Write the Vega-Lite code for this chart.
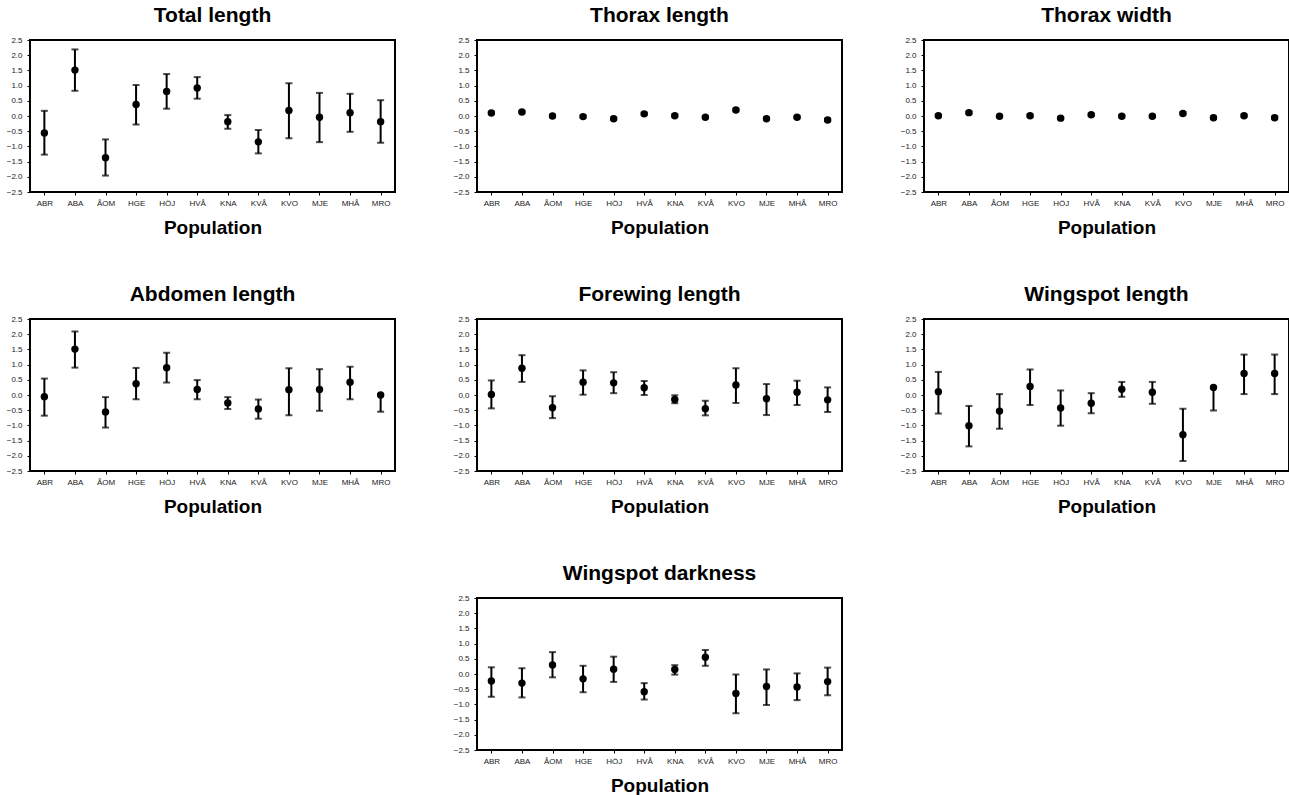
{
  "$schema": "https://vega.github.io/schema/vega-lite/v6.json",
  "padding": {"left": 5, "top": 4, "right": 0, "bottom": 0},
  "background": "white",
  "datasets": {
    "d": [
      {"trait": "Total length", "pop": "ABR", "mean": -0.56, "lo": -1.27, "hi": 0.17},
      {"trait": "Total length", "pop": "ABA", "mean": 1.51, "lo": 0.83, "hi": 2.19},
      {"trait": "Total length", "pop": "ÅOM", "mean": -1.37, "lo": -1.96, "hi": -0.77},
      {"trait": "Total length", "pop": "HGE", "mean": 0.38, "lo": -0.28, "hi": 1.02},
      {"trait": "Total length", "pop": "HÖJ", "mean": 0.81, "lo": 0.24, "hi": 1.38},
      {"trait": "Total length", "pop": "HVÅ", "mean": 0.92, "lo": 0.57, "hi": 1.28},
      {"trait": "Total length", "pop": "KNA", "mean": -0.19, "lo": -0.42, "hi": 0.03},
      {"trait": "Total length", "pop": "KVÅ", "mean": -0.85, "lo": -1.23, "hi": -0.46},
      {"trait": "Total length", "pop": "KVO", "mean": 0.18, "lo": -0.73, "hi": 1.08},
      {"trait": "Total length", "pop": "MJE", "mean": -0.04, "lo": -0.86, "hi": 0.76},
      {"trait": "Total length", "pop": "MHÅ", "mean": 0.11, "lo": -0.52, "hi": 0.73},
      {"trait": "Total length", "pop": "MRO", "mean": -0.19, "lo": -0.88, "hi": 0.52},

      {"trait": "Thorax length", "pop": "ABR", "mean": 0.10, "lo": 0.06, "hi": 0.14},
      {"trait": "Thorax length", "pop": "ABA", "mean": 0.13, "lo": 0.09, "hi": 0.17},
      {"trait": "Thorax length", "pop": "ÅOM", "mean": 0.00, "lo": -0.04, "hi": 0.04},
      {"trait": "Thorax length", "pop": "HGE", "mean": -0.02, "lo": -0.06, "hi": 0.02},
      {"trait": "Thorax length", "pop": "HÖJ", "mean": -0.09, "lo": -0.13, "hi": -0.05},
      {"trait": "Thorax length", "pop": "HVÅ", "mean": 0.07, "lo": 0.03, "hi": 0.11},
      {"trait": "Thorax length", "pop": "KNA", "mean": 0.01, "lo": -0.03, "hi": 0.05},
      {"trait": "Thorax length", "pop": "KVÅ", "mean": -0.04, "lo": -0.08, "hi": 0.00},
      {"trait": "Thorax length", "pop": "KVO", "mean": 0.20, "lo": 0.16, "hi": 0.24},
      {"trait": "Thorax length", "pop": "MJE", "mean": -0.09, "lo": -0.13, "hi": -0.05},
      {"trait": "Thorax length", "pop": "MHÅ", "mean": -0.04, "lo": -0.08, "hi": 0.00},
      {"trait": "Thorax length", "pop": "MRO", "mean": -0.13, "lo": -0.17, "hi": -0.09},

      {"trait": "Thorax width", "pop": "ABR", "mean": 0.01, "lo": -0.03, "hi": 0.05},
      {"trait": "Thorax width", "pop": "ABA", "mean": 0.11, "lo": 0.07, "hi": 0.15},
      {"trait": "Thorax width", "pop": "ÅOM", "mean": -0.01, "lo": -0.05, "hi": 0.03},
      {"trait": "Thorax width", "pop": "HGE", "mean": 0.01, "lo": -0.03, "hi": 0.05},
      {"trait": "Thorax width", "pop": "HÖJ", "mean": -0.07, "lo": -0.11, "hi": -0.03},
      {"trait": "Thorax width", "pop": "HVÅ", "mean": 0.04, "lo": 0.00, "hi": 0.08},
      {"trait": "Thorax width", "pop": "KNA", "mean": -0.01, "lo": -0.05, "hi": 0.03},
      {"trait": "Thorax width", "pop": "KVÅ", "mean": -0.01, "lo": -0.05, "hi": 0.03},
      {"trait": "Thorax width", "pop": "KVO", "mean": 0.08, "lo": 0.04, "hi": 0.12},
      {"trait": "Thorax width", "pop": "MJE", "mean": -0.06, "lo": -0.10, "hi": -0.02},
      {"trait": "Thorax width", "pop": "MHÅ", "mean": 0.01, "lo": -0.03, "hi": 0.05},
      {"trait": "Thorax width", "pop": "MRO", "mean": -0.06, "lo": -0.10, "hi": -0.02},

      {"trait": "Abdomen length", "pop": "ABR", "mean": -0.06, "lo": -0.68, "hi": 0.54},
      {"trait": "Abdomen length", "pop": "ABA", "mean": 1.51, "lo": 0.90, "hi": 2.09},
      {"trait": "Abdomen length", "pop": "ÅOM", "mean": -0.56, "lo": -1.07, "hi": -0.07},
      {"trait": "Abdomen length", "pop": "HGE", "mean": 0.37, "lo": -0.14, "hi": 0.89},
      {"trait": "Abdomen length", "pop": "HÖJ", "mean": 0.90, "lo": 0.41, "hi": 1.39},
      {"trait": "Abdomen length", "pop": "HVÅ", "mean": 0.18, "lo": -0.14, "hi": 0.49},
      {"trait": "Abdomen length", "pop": "KNA", "mean": -0.26, "lo": -0.46, "hi": -0.07},
      {"trait": "Abdomen length", "pop": "KVÅ", "mean": -0.46, "lo": -0.78, "hi": -0.15},
      {"trait": "Abdomen length", "pop": "KVO", "mean": 0.17, "lo": -0.67, "hi": 0.88},
      {"trait": "Abdomen length", "pop": "MJE", "mean": 0.18, "lo": -0.52, "hi": 0.85},
      {"trait": "Abdomen length", "pop": "MHÅ", "mean": 0.42, "lo": -0.14, "hi": 0.93},
      {"trait": "Abdomen length", "pop": "MRO", "mean": 0.00, "lo": -0.55, "hi": 0.00},

      {"trait": "Forewing length", "pop": "ABR", "mean": 0.02, "lo": -0.44, "hi": 0.48},
      {"trait": "Forewing length", "pop": "ABA", "mean": 0.88, "lo": 0.43, "hi": 1.31},
      {"trait": "Forewing length", "pop": "ÅOM", "mean": -0.42, "lo": -0.76, "hi": -0.04},
      {"trait": "Forewing length", "pop": "HGE", "mean": 0.42, "lo": 0.01, "hi": 0.81},
      {"trait": "Forewing length", "pop": "HÖJ", "mean": 0.40, "lo": 0.06, "hi": 0.75},
      {"trait": "Forewing length", "pop": "HVÅ", "mean": 0.24, "lo": 0.00, "hi": 0.46},
      {"trait": "Forewing length", "pop": "KNA", "mean": -0.15, "lo": -0.27, "hi": -0.01},
      {"trait": "Forewing length", "pop": "KVÅ", "mean": -0.45, "lo": -0.67, "hi": -0.19},
      {"trait": "Forewing length", "pop": "KVO", "mean": 0.33, "lo": -0.26, "hi": 0.88},
      {"trait": "Forewing length", "pop": "MJE", "mean": -0.12, "lo": -0.66, "hi": 0.36},
      {"trait": "Forewing length", "pop": "MHÅ", "mean": 0.09, "lo": -0.33, "hi": 0.47},
      {"trait": "Forewing length", "pop": "MRO", "mean": -0.16, "lo": -0.56, "hi": 0.25},

      {"trait": "Wingspot length", "pop": "ABR", "mean": 0.11, "lo": -0.61, "hi": 0.76},
      {"trait": "Wingspot length", "pop": "ABA", "mean": -1.01, "lo": -1.69, "hi": -0.36},
      {"trait": "Wingspot length", "pop": "ÅOM", "mean": -0.53, "lo": -1.11, "hi": 0.03},
      {"trait": "Wingspot length", "pop": "HGE", "mean": 0.28, "lo": -0.33, "hi": 0.84},
      {"trait": "Wingspot length", "pop": "HÖJ", "mean": -0.43, "lo": -1.01, "hi": 0.15},
      {"trait": "Wingspot length", "pop": "HVÅ", "mean": -0.27, "lo": -0.60, "hi": 0.06},
      {"trait": "Wingspot length", "pop": "KNA", "mean": 0.19, "lo": -0.06, "hi": 0.43},
      {"trait": "Wingspot length", "pop": "KVÅ", "mean": 0.09, "lo": -0.29, "hi": 0.43},
      {"trait": "Wingspot length", "pop": "KVO", "mean": -1.31, "lo": -2.17, "hi": -0.45},
      {"trait": "Wingspot length", "pop": "MJE", "mean": 0.25, "lo": -0.51, "hi": 0.25},
      {"trait": "Wingspot length", "pop": "MHÅ", "mean": 0.71, "lo": 0.03, "hi": 1.33},
      {"trait": "Wingspot length", "pop": "MRO", "mean": 0.71, "lo": 0.03, "hi": 1.33},

      {"trait": "Wingspot darkness", "pop": "ABR", "mean": -0.23, "lo": -0.75, "hi": 0.22},
      {"trait": "Wingspot darkness", "pop": "ABA", "mean": -0.30, "lo": -0.77, "hi": 0.19},
      {"trait": "Wingspot darkness", "pop": "ÅOM", "mean": 0.30, "lo": -0.11, "hi": 0.72},
      {"trait": "Wingspot darkness", "pop": "HGE", "mean": -0.16, "lo": -0.60, "hi": 0.27},
      {"trait": "Wingspot darkness", "pop": "HÖJ", "mean": 0.16, "lo": -0.26, "hi": 0.57},
      {"trait": "Wingspot darkness", "pop": "HVÅ", "mean": -0.58, "lo": -0.84, "hi": -0.30},
      {"trait": "Wingspot darkness", "pop": "KNA", "mean": 0.15, "lo": -0.02, "hi": 0.29},
      {"trait": "Wingspot darkness", "pop": "KVÅ", "mean": 0.55, "lo": 0.27, "hi": 0.79},
      {"trait": "Wingspot darkness", "pop": "KVO", "mean": -0.64, "lo": -1.29, "hi": -0.02},
      {"trait": "Wingspot darkness", "pop": "MJE", "mean": -0.41, "lo": -1.02, "hi": 0.15},
      {"trait": "Wingspot darkness", "pop": "MHÅ", "mean": -0.43, "lo": -0.86, "hi": 0.02},
      {"trait": "Wingspot darkness", "pop": "MRO", "mean": -0.25, "lo": -0.70, "hi": 0.21}
    ]
  },
  "data": {"name": "d"},
  "vconcat": [
    {"hconcat": [
      {"title": "Total length", "width": 365, "height": 152,
       "transform": [{"filter": "datum.trait === 'Total length'"}],
       "encoding": {"x": {"field": "pop", "type": "nominal", "sort": ["ABR","ABA","ÅOM","HGE","HÖJ","HVÅ","KNA","KVÅ","KVO","MJE","MHÅ","MRO"], "scale": {"type": "point", "padding": 0.47}, "axis": {"title": "Population"}}},
       "layer": [
         {"mark": {"type": "errorbar", "ticks": {"size": 7, "thickness": 2, "color": "black"}, "rule": {"strokeWidth": 2, "color": "black"}},
          "encoding": {"y": {"field": "lo", "type": "quantitative", "scale": {"domain": [-2.5, 2.5], "nice": false}, "axis": {"title": null, "values": [-2.5,-2,-1.5,-1,-0.5,0,0.5,1,1.5,2,2.5], "format": ".1f"}}, "y2": {"field": "hi"}}},
         {"mark": {"type": "point", "filled": true, "color": "black", "opacity": 1, "size": 55},
          "encoding": {"y": {"field": "mean", "type": "quantitative", "axis": {"title": null, "values": [-2.5,-2,-1.5,-1,-0.5,0,0.5,1,1.5,2,2.5], "format": ".1f"}}}}
       ]},
      {"title": "Thorax length", "width": 365, "height": 152,
       "transform": [{"filter": "datum.trait === 'Thorax length'"}],
       "encoding": {"x": {"field": "pop", "type": "nominal", "sort": ["ABR","ABA","ÅOM","HGE","HÖJ","HVÅ","KNA","KVÅ","KVO","MJE","MHÅ","MRO"], "scale": {"type": "point", "padding": 0.47}, "axis": {"title": "Population"}}},
       "layer": [
         {"mark": {"type": "errorbar", "ticks": {"size": 7, "thickness": 2, "color": "black"}, "rule": {"strokeWidth": 2, "color": "black"}},
          "encoding": {"y": {"field": "lo", "type": "quantitative", "scale": {"domain": [-2.5, 2.5], "nice": false}, "axis": {"title": null, "values": [-2.5,-2,-1.5,-1,-0.5,0,0.5,1,1.5,2,2.5], "format": ".1f"}}, "y2": {"field": "hi"}}},
         {"mark": {"type": "point", "filled": true, "color": "black", "opacity": 1, "size": 55},
          "encoding": {"y": {"field": "mean", "type": "quantitative", "axis": {"title": null, "values": [-2.5,-2,-1.5,-1,-0.5,0,0.5,1,1.5,2,2.5], "format": ".1f"}}}}
       ]},
      {"title": "Thorax width", "width": 365, "height": 152,
       "transform": [{"filter": "datum.trait === 'Thorax width'"}],
       "encoding": {"x": {"field": "pop", "type": "nominal", "sort": ["ABR","ABA","ÅOM","HGE","HÖJ","HVÅ","KNA","KVÅ","KVO","MJE","MHÅ","MRO"], "scale": {"type": "point", "padding": 0.47}, "axis": {"title": "Population"}}},
       "layer": [
         {"mark": {"type": "errorbar", "ticks": {"size": 7, "thickness": 2, "color": "black"}, "rule": {"strokeWidth": 2, "color": "black"}},
          "encoding": {"y": {"field": "lo", "type": "quantitative", "scale": {"domain": [-2.5, 2.5], "nice": false}, "axis": {"title": null, "values": [-2.5,-2,-1.5,-1,-0.5,0,0.5,1,1.5,2,2.5], "format": ".1f"}}, "y2": {"field": "hi"}}},
         {"mark": {"type": "point", "filled": true, "color": "black", "opacity": 1, "size": 55},
          "encoding": {"y": {"field": "mean", "type": "quantitative", "axis": {"title": null, "values": [-2.5,-2,-1.5,-1,-0.5,0,0.5,1,1.5,2,2.5], "format": ".1f"}}}}
       ]}
    ]},
    {"hconcat": [
      {"title": "Abdomen length", "width": 365, "height": 152,
       "transform": [{"filter": "datum.trait === 'Abdomen length'"}],
       "encoding": {"x": {"field": "pop", "type": "nominal", "sort": ["ABR","ABA","ÅOM","HGE","HÖJ","HVÅ","KNA","KVÅ","KVO","MJE","MHÅ","MRO"], "scale": {"type": "point", "padding": 0.47}, "axis": {"title": "Population"}}},
       "layer": [
         {"mark": {"type": "errorbar", "ticks": {"size": 7, "thickness": 2, "color": "black"}, "rule": {"strokeWidth": 2, "color": "black"}},
          "encoding": {"y": {"field": "lo", "type": "quantitative", "scale": {"domain": [-2.5, 2.5], "nice": false}, "axis": {"title": null, "values": [-2.5,-2,-1.5,-1,-0.5,0,0.5,1,1.5,2,2.5], "format": ".1f"}}, "y2": {"field": "hi"}}},
         {"mark": {"type": "point", "filled": true, "color": "black", "opacity": 1, "size": 55},
          "encoding": {"y": {"field": "mean", "type": "quantitative", "axis": {"title": null, "values": [-2.5,-2,-1.5,-1,-0.5,0,0.5,1,1.5,2,2.5], "format": ".1f"}}}}
       ]},
      {"title": "Forewing length", "width": 365, "height": 152,
       "transform": [{"filter": "datum.trait === 'Forewing length'"}],
       "encoding": {"x": {"field": "pop", "type": "nominal", "sort": ["ABR","ABA","ÅOM","HGE","HÖJ","HVÅ","KNA","KVÅ","KVO","MJE","MHÅ","MRO"], "scale": {"type": "point", "padding": 0.47}, "axis": {"title": "Population"}}},
       "layer": [
         {"mark": {"type": "errorbar", "ticks": {"size": 7, "thickness": 2, "color": "black"}, "rule": {"strokeWidth": 2, "color": "black"}},
          "encoding": {"y": {"field": "lo", "type": "quantitative", "scale": {"domain": [-2.5, 2.5], "nice": false}, "axis": {"title": null, "values": [-2.5,-2,-1.5,-1,-0.5,0,0.5,1,1.5,2,2.5], "format": ".1f"}}, "y2": {"field": "hi"}}},
         {"mark": {"type": "point", "filled": true, "color": "black", "opacity": 1, "size": 55},
          "encoding": {"y": {"field": "mean", "type": "quantitative", "axis": {"title": null, "values": [-2.5,-2,-1.5,-1,-0.5,0,0.5,1,1.5,2,2.5], "format": ".1f"}}}}
       ]},
      {"title": "Wingspot length", "width": 365, "height": 152,
       "transform": [{"filter": "datum.trait === 'Wingspot length'"}],
       "encoding": {"x": {"field": "pop", "type": "nominal", "sort": ["ABR","ABA","ÅOM","HGE","HÖJ","HVÅ","KNA","KVÅ","KVO","MJE","MHÅ","MRO"], "scale": {"type": "point", "padding": 0.47}, "axis": {"title": "Population"}}},
       "layer": [
         {"mark": {"type": "errorbar", "ticks": {"size": 7, "thickness": 2, "color": "black"}, "rule": {"strokeWidth": 2, "color": "black"}},
          "encoding": {"y": {"field": "lo", "type": "quantitative", "scale": {"domain": [-2.5, 2.5], "nice": false}, "axis": {"title": null, "values": [-2.5,-2,-1.5,-1,-0.5,0,0.5,1,1.5,2,2.5], "format": ".1f"}}, "y2": {"field": "hi"}}},
         {"mark": {"type": "point", "filled": true, "color": "black", "opacity": 1, "size": 55},
          "encoding": {"y": {"field": "mean", "type": "quantitative", "axis": {"title": null, "values": [-2.5,-2,-1.5,-1,-0.5,0,0.5,1,1.5,2,2.5], "format": ".1f"}}}}
       ]}
    ]},
    {"title": "Wingspot darkness", "width": 365, "height": 152,
     "transform": [{"filter": "datum.trait === 'Wingspot darkness'"}],
     "encoding": {"x": {"field": "pop", "type": "nominal", "sort": ["ABR","ABA","ÅOM","HGE","HÖJ","HVÅ","KNA","KVÅ","KVO","MJE","MHÅ","MRO"], "scale": {"type": "point", "padding": 0.47}, "axis": {"title": "Population"}}},
     "layer": [
       {"mark": {"type": "errorbar", "ticks": {"size": 7, "thickness": 2, "color": "black"}, "rule": {"strokeWidth": 2, "color": "black"}},
        "encoding": {"y": {"field": "lo", "type": "quantitative", "scale": {"domain": [-2.5, 2.5], "nice": false}, "axis": {"title": null, "values": [-2.5,-2,-1.5,-1,-0.5,0,0.5,1,1.5,2,2.5], "format": ".1f"}}, "y2": {"field": "hi"}}},
       {"mark": {"type": "point", "filled": true, "color": "black", "opacity": 1, "size": 55},
        "encoding": {"y": {"field": "mean", "type": "quantitative", "axis": {"title": null, "values": [-2.5,-2,-1.5,-1,-0.5,0,0.5,1,1.5,2,2.5], "format": ".1f"}}}}
     ]}
  ],
  "center": true,
  "spacing": 45,
  "config": {
    "font": "Liberation Sans",
    "concat": {"spacing": 56},
    "view": {"stroke": "black", "strokeWidth": 2},
    "axis": {"labelFontSize": 8, "labelColor": "#222222", "domain": false, "grid": false, "tickColor": "black", "tickSize": 3, "labelPadding": 5},
    "axisX": {"labelAngle": 0, "titleFontSize": 19, "titleFontWeight": "bold", "titleColor": "black", "titlePadding": 11, "labelPadding": 4},
    "title": {"fontSize": 21, "fontWeight": "bold", "color": "black", "offset": 10}
  }
}
